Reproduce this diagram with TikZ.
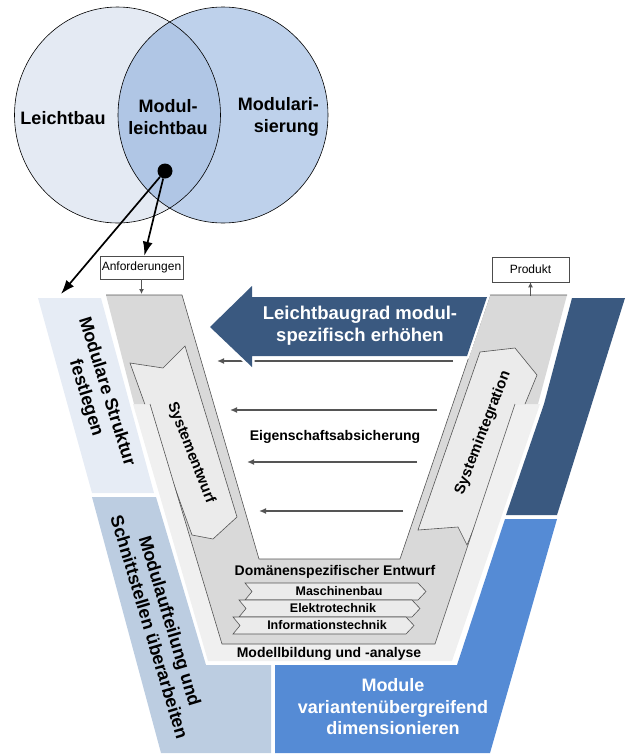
\documentclass[tikz,border=0pt]{standalone}
\usepackage{fontspec}
\setmainfont{Liberation Sans}
\usetikzlibrary{arrows.meta}

\definecolor{circleA}{RGB}{228,234,243}
\definecolor{circleB}{RGB}{190,209,235}
\definecolor{circleAB}{RGB}{176,198,229}
\definecolor{paleblue}{RGB}{230,236,245}
\definecolor{greyblue}{RGB}{188,205,225}
\definecolor{midblue}{RGB}{85,139,213}
\definecolor{darkblue}{RGB}{58,89,128}
\definecolor{vgray}{RGB}{217,217,217}
\definecolor{vlight}{RGB}{240,240,240}
\definecolor{chevfill}{RGB}{235,235,235}
\definecolor{lineg}{RGB}{85,85,85}

\newcommand*{\vshape}{(106,295) -- (182,295) -- (259,559) -- (400,559) -- (490,295) -- (567,295) -- (538,404) -- (515,404) -- (435,644) -- (222,644) -- (150,404) -- (134,404) -- cycle}

\begin{document}
\begin{tikzpicture}[x=1pt,y=1pt,yscale=-1,
  biglabel/.style={font=\fontsize{18}{21.5}\selectfont\bfseries,align=center,inner sep=0pt},
  midlabel/.style={font=\fontsize{14}{16}\selectfont\bfseries,inner sep=0pt},
  smalllabel/.style={font=\fontsize{12.5}{14}\selectfont\bfseries,inner sep=0pt},
  armlabel/.style={font=\fontsize{15}{17}\selectfont\bfseries,inner sep=0pt},
  boxlabel/.style={draw=black!70,line width=0.6pt,fill=white,font=\fontsize{12}{14}\selectfont,inner sep=0.5pt},
  venn/.style={draw=black,line width=0.6pt},
  pointer/.style={-{Latex[length=14pt,width=10pt]},line width=1.7pt},
  backarrow/.style={-{Latex[length=7pt,width=6pt]},line width=1.4pt,draw=lineg},
  feed/.style={-{Latex[length=5pt,width=5pt]},line width=1.1pt,draw=lineg},
  chevron/.style={fill=chevfill,draw=lineg,line width=0.6pt},
  outline/.style={draw=lineg,line width=0.6pt}]
\useasboundingbox (0,0) rectangle (625,756);

%Shape: Circles (Venn)
\fill[circleA] (117.5,115) ellipse [x radius=103, y radius=108];
\fill[circleB] (223,115) ellipse [x radius=105, y radius=108];
\begin{scope}
  \clip (117.5,115) ellipse [x radius=103, y radius=108];
  \fill[circleAB] (223,115) ellipse [x radius=105, y radius=108];
\end{scope}
\draw[venn] (117.5,115) ellipse [x radius=103, y radius=108];
\draw[venn] (223,115) ellipse [x radius=105, y radius=108];

\node[biglabel] (leicht) at (63,118) {Leichtbau};
\node[biglabel] (modleicht) at (168,117) {Modul-\\leichtbau};
\node[biglabel,align=right,anchor=east] (modular) at (319,117) {Modulari-\\sierung};
\node[circle,fill=black,minimum size=15pt,inner sep=0pt] (dot) at (165,171) {};

%Shape: Regions
\fill[paleblue] (38,298) -- (101,298) -- (154,493) -- (92,493) -- cycle;
\fill[greyblue] (92,497) -- (156,497) -- (206,665) -- (271,665) -- (271,753) -- (161,753) -- cycle;
\fill[midblue] (505,519) -- (557,519) -- (490,753) -- (275,753) -- (275,665) -- (457,665) -- cycle;
\fill[darkblue] (572,298) -- (625,298) -- (557,515) -- (506,515) -- (544,404) -- cycle;

%Shape: V
\fill[vlight] (133,404) -- (150,404) -- (222,644) -- (435,644) -- (515,404) -- (540,404) -- (452,661) -- (208,661) -- cycle;
\fill[vgray] \vshape;
\begin{scope}
  \clip \vshape;
  \draw[chevron] (130,363) -- (163,368) -- (185,346) -- (237,517) -- (213,539) -- (192,535) -- cycle;
  \draw[chevron] (480,352) -- (515,348) -- (537,375) -- (467,545) -- (458,527) -- (418,530) -- cycle;
\end{scope}
\draw[outline] (106,295) -- (182,295) -- (259,559) -- (400,559) -- (490,295) -- (567,295);
\draw[outline] (150,404) -- (222,644) -- (435,644) -- (515,404);

\node[armlabel,rotate=-68.6] (entwurf) at (191,453) {Systementwurf};
\node[armlabel,rotate=68.9] (integ) at (483,433) {Systemintegration};

\node[midlabel] (domtitle) at (335,572) {Domänenspezifischer Entwurf};
\foreach \dx/\y/\txt [count=\i] in {0/583/Maschinenbau,-6/600/Elektrotechnik,-12/617/Informationstechnik}{
  \draw[chevron] (245+\dx,\y) -- ++(173,0) -- ++(8,8.5) -- ++(-8,8.5) -- ++(-173,0) -- ++(7,-8.5) -- cycle;
  \node[smalllabel] (domain\i) at (339+\dx,\y+8.5) {\txt};
}
\node[midlabel] (modell) at (329,654) {Modellbildung und -analyse};

%Straight Lines: Eigenschaftsabsicherung
\foreach \xa/\xb/\y in {453/217/361,437/230/410,417/247/462,403/259/511}
  \draw[backarrow] (\xa,\y) -- (\xb,\y);
\node[midlabel] (eigen) at (335,437) {Eigenschaftsabsicherung};

%Shape: big arrow
\path[preaction={draw=white,line width=5pt},fill=darkblue] (210,327) -- (252,286) -- (252,297) -- (487,297) -- (467,356) -- (252,356) -- (252,367) -- cycle;
\node[biglabel,font=\fontsize{18.5}{22}\selectfont\bfseries,text=white] (grad) at (360,326) {Leichtbaugrad modul-\\spezifisch erhöhen};

%Region labels
\node[biglabel,rotate=-72.7] (struktur) at (96,395) {Modulare Struktur\\festlegen};
\node[biglabel,rotate=-73.3] (aufteil) at (160,624) {Modulaufteilung und\\Schnittstellen überarbeiten};
\node[biglabel,text=white] (dimens) at (393,707) {Module\\variantenübergreifend\\dimensionieren};

%Boxes and pointers
\node[boxlabel,minimum width=83pt,minimum height=23pt] (anf) at (141.5,267.5) {Anforderungen};
\node[boxlabel,minimum width=77pt,minimum height=25pt] (prod) at (530.5,269.5) {Produkt};
\coordinate (vleft) at (141.5,294);
\coordinate (vright) at (530.5,296);
\coordinate (mstop) at (61,294);
\draw[feed] (anf) -- (vleft);
\draw[feed] (vright) -- (prod);
\draw[pointer] (dot) -- (mstop);
\draw[pointer] (dot) -- (anf);

\end{tikzpicture}
\end{document}
